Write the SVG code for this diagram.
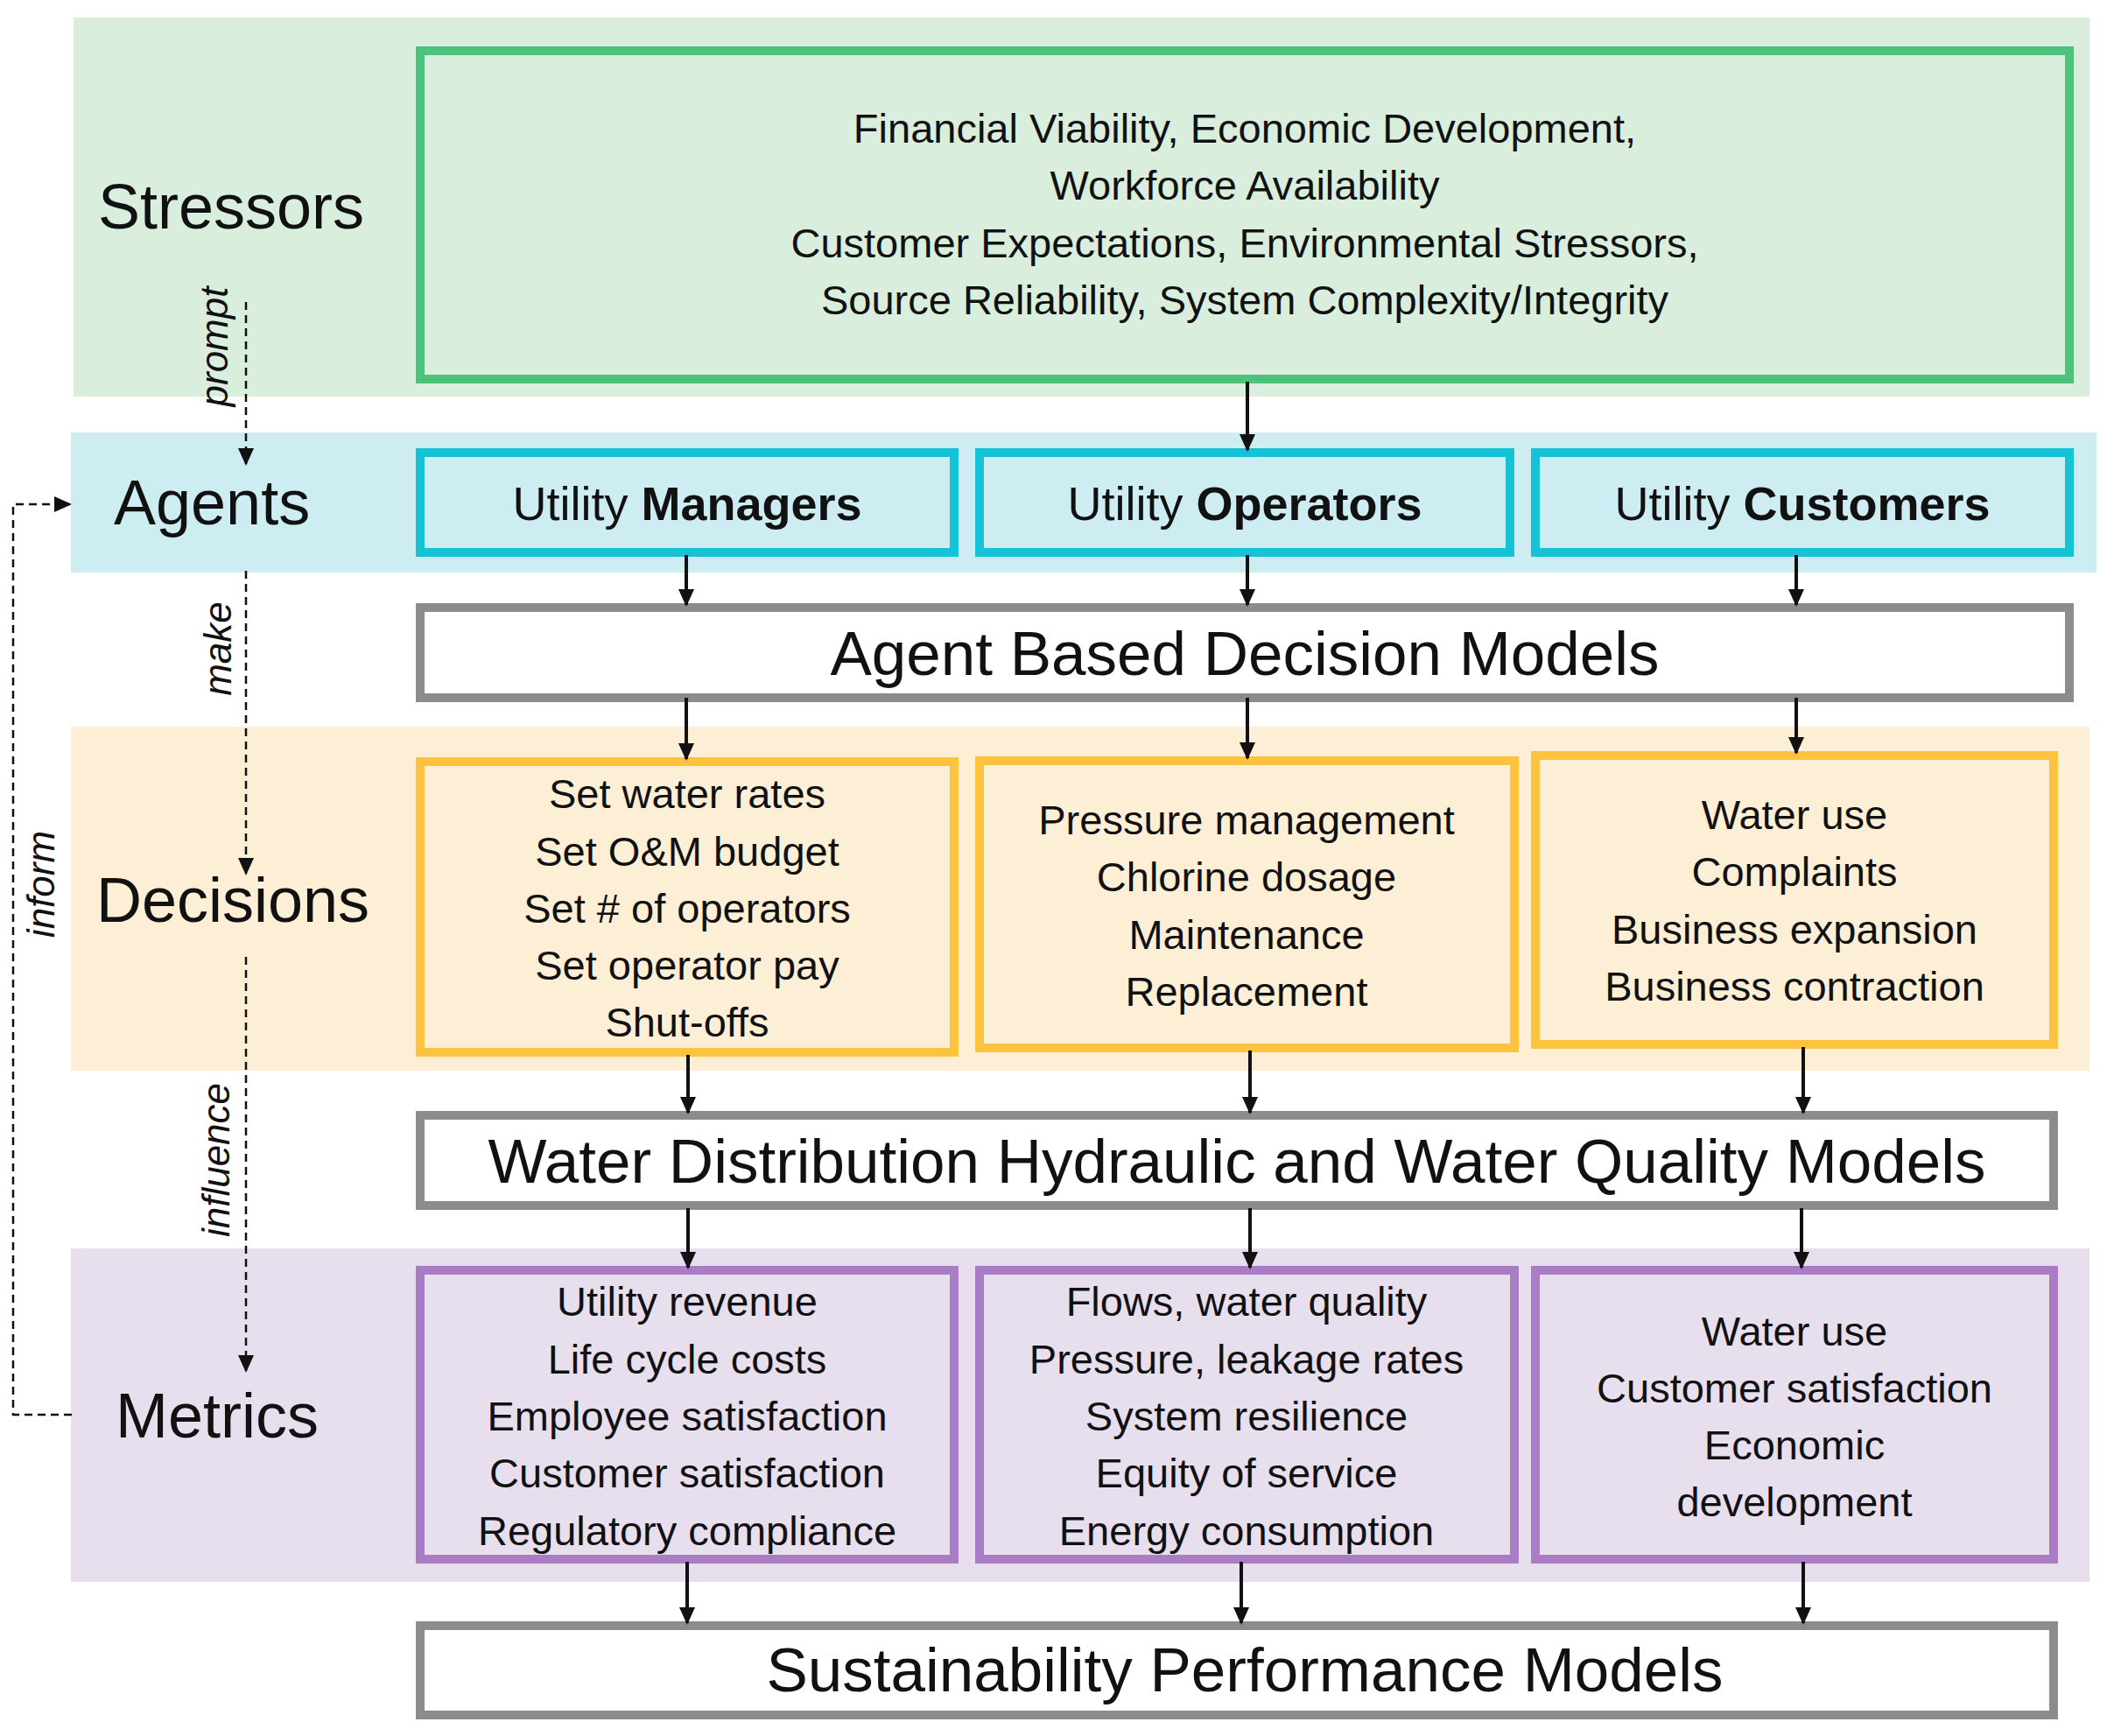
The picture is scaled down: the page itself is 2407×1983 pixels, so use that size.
<svg xmlns="http://www.w3.org/2000/svg" width="2407" height="1983" viewBox="0 0 2407 1983">
<style>
text{font-family:"Liberation Sans","Noto Sans",sans-serif;fill:#111;text-anchor:middle;dominant-baseline:central}
.lab{font-size:72px;text-anchor:start}
.it{font-size:44px;font-style:italic}
.t{font-size:47px}
.ag{font-size:54px}
.big{font-size:71px}
.g{fill:#d9eedd;stroke:#4cc27b;stroke-width:10}
.c{fill:#cdedf2;stroke:#16c3d6;stroke-width:10}
.y{fill:#fdefd5;stroke:#fdc23e;stroke-width:10}
.p{fill:#e8dfee;stroke:#a97cc5;stroke-width:10}
.w{fill:#fff;stroke:#8c8c8c;stroke-width:10}
.ar{stroke:#111;stroke-width:4;fill:none;marker-end:url(#ah)}
.da{stroke:#111;stroke-width:2.5;fill:none;stroke-dasharray:9 6;marker-end:url(#ah)}
</style>
<defs><marker id="ah" markerWidth="20" markerHeight="22" refX="18" refY="11" orient="auto" markerUnits="userSpaceOnUse"><path d="M0,2 L20,11 L0,20z" fill="#111"/></marker></defs>
<g id="bands">
<rect x="84" y="20" width="2303" height="433" fill="#d9eedd"/>
<rect x="81" y="494" width="2314" height="160" fill="#cdedf2"/>
<rect x="81" y="830" width="2306" height="393" fill="#fdefd5"/>
<rect x="81" y="1426" width="2306" height="381" fill="#e8dfee"/>
<text class="lab" x="112" y="236">Stressors</text>
<text class="lab" x="130" y="574">Agents</text>
<text class="lab" x="110" y="1028">Decisions</text>
<text class="lab" x="132" y="1617">Metrics</text>
</g>
<g id="stressors"><rect class="g" x="480" y="58" width="1884" height="375"/>
<text class="t" x="1422" y="146">Financial Viability, Economic Development,</text>
<text class="t" x="1422" y="211">Workforce Availability</text>
<text class="t" x="1422" y="277">Customer Expectations, Environmental Stressors,</text>
<text class="t" x="1422" y="342">Source Reliability, System Complexity/Integrity</text></g>
<g id="managers"><rect class="c" x="480" y="517" width="610" height="114"/><text class="ag" x="785" y="575">Utility <tspan font-weight="bold">Managers</tspan></text></g>
<g id="operators"><rect class="c" x="1119" y="517" width="606" height="114"/><text class="ag" x="1422" y="575">Utility <tspan font-weight="bold">Operators</tspan></text></g>
<g id="customers"><rect class="c" x="1754" y="517" width="610" height="114"/><text class="ag" x="2059" y="575">Utility <tspan font-weight="bold">Customers</tspan></text></g>
<g id="abdm"><rect class="w" x="480" y="694" width="1884" height="103"/><text class="big" x="1422" y="746">Agent Based Decision Models</text></g>
<g id="dec-managers"><rect class="y" x="480" y="870" width="610" height="332"/>
<text class="t" x="785" y="906">Set water rates</text><text class="t" x="785" y="972">Set O&amp;M budget</text><text class="t" x="785" y="1037">Set # of operators</text><text class="t" x="785" y="1102">Set operator pay</text><text class="t" x="785" y="1167">Shut-offs</text></g>
<g id="dec-operators"><rect class="y" x="1119" y="869" width="611" height="328"/>
<text class="t" x="1424" y="936">Pressure management</text><text class="t" x="1424" y="1001">Chlorine dosage</text><text class="t" x="1424" y="1067">Maintenance</text><text class="t" x="1424" y="1132">Replacement</text></g>
<g id="dec-customers"><rect class="y" x="1754" y="863" width="592" height="330"/>
<text class="t" x="2050" y="930">Water use</text><text class="t" x="2050" y="995">Complaints</text><text class="t" x="2050" y="1061">Business expansion</text><text class="t" x="2050" y="1126">Business contraction</text></g>
<g id="wdh"><rect class="w" x="480" y="1274" width="1866" height="103"/><text class="big" x="1413" y="1326">Water Distribution Hydraulic and Water Quality Models</text></g>
<g id="met-managers"><rect class="p" x="480" y="1451" width="610" height="330"/>
<text class="t" x="785" y="1486">Utility revenue</text><text class="t" x="785" y="1552">Life cycle costs</text><text class="t" x="785" y="1617">Employee satisfaction</text><text class="t" x="785" y="1682">Customer satisfaction</text><text class="t" x="785" y="1748">Regulatory compliance</text></g>
<g id="met-operators"><rect class="p" x="1119" y="1451" width="611" height="330"/>
<text class="t" x="1424" y="1486">Flows, water quality</text><text class="t" x="1424" y="1552">Pressure, leakage rates</text><text class="t" x="1424" y="1617">System resilience</text><text class="t" x="1424" y="1682">Equity of service</text><text class="t" x="1424" y="1748">Energy consumption</text></g>
<g id="met-customers"><rect class="p" x="1754" y="1451" width="592" height="330"/>
<text class="t" x="2050" y="1520">Water use</text><text class="t" x="2050" y="1585">Customer satisfaction</text><text class="t" x="2050" y="1650">Economic</text><text class="t" x="2050" y="1715">development</text></g>
<g id="spm"><rect class="w" x="480" y="1857" width="1866" height="102"/><text class="big" x="1422" y="1907">Sustainability Performance Models</text></g>
<g id="connectors">
<path class="ar" d="M1425,436 V514"/>
<path class="ar" d="M784,634 V691"/><path class="ar" d="M1425,634 V691"/><path class="ar" d="M2052,634 V691"/>
<path class="ar" d="M784,797 V867"/><path class="ar" d="M1425,797 V866"/><path class="ar" d="M2052,797 V860"/>
<path class="ar" d="M786,1205 V1271"/><path class="ar" d="M1428,1200 V1271"/><path class="ar" d="M2060,1196 V1271"/>
<path class="ar" d="M786,1380 V1448"/><path class="ar" d="M1428,1380 V1448"/><path class="ar" d="M2058,1380 V1448"/>
<path class="ar" d="M785,1784 V1854"/><path class="ar" d="M1418,1784 V1854"/><path class="ar" d="M2060,1784 V1854"/>
<path class="da" d="M281,345 V530"/>
<path class="da" d="M281,652 V998"/>
<path class="da" d="M281,1093 V1566"/>
<path class="da" d="M82,1616 H15 V576 H80"/>
<text class="it" transform="translate(244,396) rotate(-90)">prompt</text>
<text class="it" transform="translate(248,741) rotate(-90)">make</text>
<text class="it" transform="translate(246,1325) rotate(-90)">influence</text>
<text class="it" transform="translate(46,1010) rotate(-90)">inform</text>
</g>
</svg>
